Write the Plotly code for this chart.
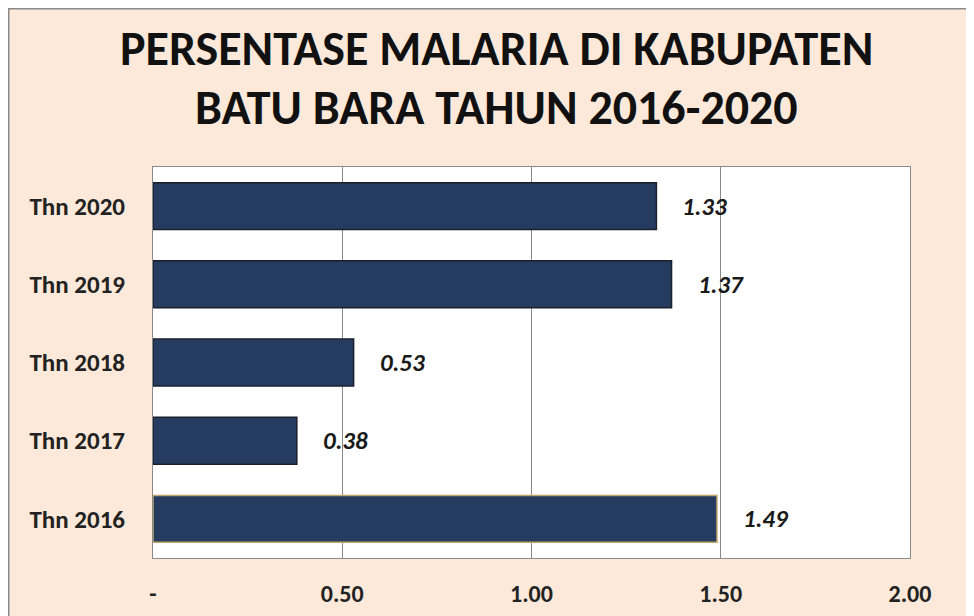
import plotly.graph_objects as go

categories = ["Thn 2016", "Thn 2017", "Thn 2018", "Thn 2019", "Thn 2020"]
values = [1.49, 0.38, 0.53, 1.37, 1.33]
value_labels = ["1.49", "0.38", "0.53", "1.37", "1.33"]
x_tickvals = [0, 0.5, 1.0, 1.5, 2.0]
x_ticktext = ["-", "0.50", "1.00", "1.50", "2.00"]
title_lines = ["PERSENTASE MALARIA DI KABUPATEN", "BATU BARA TAHUN 2016-2020"]

FONT = "Carlito, Open Sans, sans-serif"
PEACH = "#FDE9D9"
BAR = "#253C60"
outline = ["#BFA56A", "#1c1f2c", "#1c1f2c", "#1c1f2c", "#1c1f2c"]

# page has an 8px body margin; figure sized to fill the rest of the window
W, H = 966, 608
L, R, T, B = 145, 64, 159, 58
pw, ph = W - L - R, H - T - B

def px(xp):
    return (xp - L) / pw

def py(yp):
    return (H - B - yp) / ph

fig = go.Figure()
fig.add_trace(go.Bar(
    y=categories, x=values, orientation="h",
    marker=dict(color=BAR, line=dict(color=outline, width=1.5)),
    hoverinfo="skip", showlegend=False,
))

for c, v, t in zip(categories, values, value_labels):
    fig.add_annotation(x=v, y=c, xref="x", yref="y", text=f"<i><b>{t}</b></i>",
                       showarrow=False, xanchor="left", yanchor="middle", xshift=24,
                       font=dict(family=FONT, size=25, color="#1a1a1a"))

fig.add_annotation(x=px(488), y=py(41), xref="paper", yref="paper", text=f"<b>{title_lines[0]}</b>",
                   showarrow=False, xanchor="center", yanchor="middle",
                   font=dict(family=FONT, size=48, color="#111111"))
fig.add_annotation(x=px(488), y=py(99), xref="paper", yref="paper", text=f"<b>{title_lines[1]}</b>",
                   showarrow=False, xanchor="center", yanchor="middle",
                   font=dict(family=FONT, size=48, color="#111111"))

# frame lines at the left and top edge of the chart area
fig.add_shape(type="line", xref="paper", yref="paper", x0=px(0.75), x1=px(0.75), y0=py(0), y1=py(H + 10),
              line=dict(color="#8a8a8a", width=1.5))
fig.add_shape(type="line", xref="paper", yref="paper", x0=px(0), x1=px(W + 10), y0=py(0.75), y1=py(0.75),
              line=dict(color="#8a8a8a", width=1.5))

fig.update_layout(
    template="none",
    width=W, height=H,
    margin=dict(l=L, r=R, t=T, b=B, autoexpand=False),
    paper_bgcolor=PEACH, plot_bgcolor="white",
    bargap=0.4,
    font=dict(family=FONT),
    xaxis=dict(range=[0, 2], tickvals=x_tickvals, ticktext=x_ticktext, automargin=False,
               showgrid=True, gridcolor="#8a8a8a", gridwidth=1,
               showline=True, linecolor="#8a8a8a", linewidth=1, mirror=True,
               zeroline=False, ticks="", ticklabelstandoff=14,
               tickfont=dict(family=FONT, size=24, color="#222222", weight="bold"),
               fixedrange=True),
    yaxis=dict(showgrid=False, showline=True, linecolor="#8a8a8a", linewidth=1, mirror=True,
               zeroline=False, ticks="", ticklabelstandoff=22, automargin=False,
               tickfont=dict(family=FONT, size=25, color="#222222", weight="bold"),
               fixedrange=True),
)

fig.write_html("out.html")
